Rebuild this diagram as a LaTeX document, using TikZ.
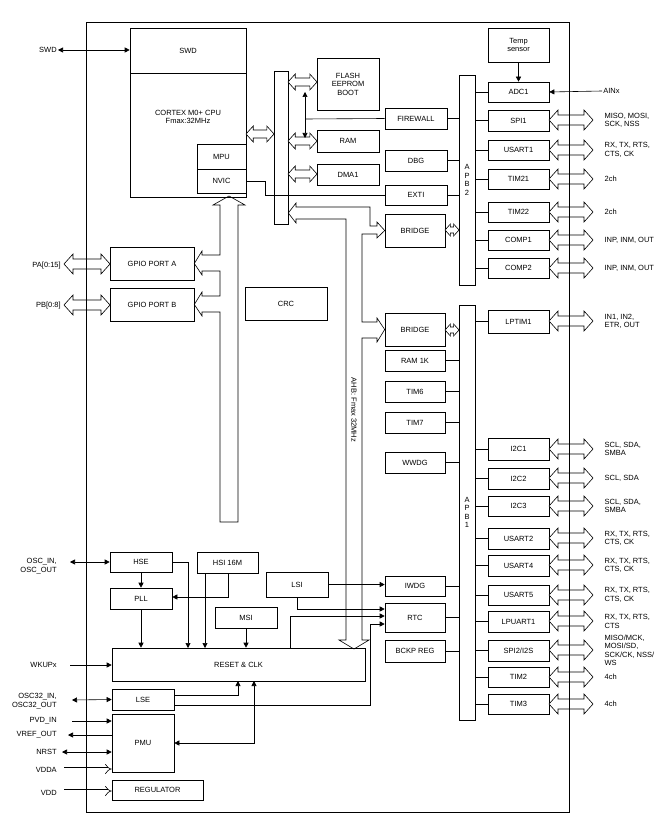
\documentclass[tikz,border=0pt]{standalone}
\usepackage{fontspec}
\setmainfont{Liberation Sans}
\usetikzlibrary{arrows.meta,positioning}

\tikzset{
  blk/.style={draw, fill=white, inner sep=0pt, align=center, font=\fontsize{7.5}{8.5}\selectfont},
  lbl/.style={font=\fontsize{7.5}{8.5}\selectfont, inner sep=1pt},
  sig/.style={-{Triangle[length=5pt,width=5pt]}},
  sigs/.style={{Triangle[length=5pt,width=5pt]}-{Triangle[length=5pt,width=5pt]}},
  pin/.style={double, double distance=3pt, -{Implies}},
}
% box from corner (x1,y1) to corner (x2,y2)
\newcommand\blk[6]{\node[blk, minimum width={(#4)-(#2)}, minimum height={(#5)-(#3)}]
  (#1) at ({((#2)+(#4))/2},{((#3)+(#5))/2}) {#6};}
% hollow two-headed bus arrow: x1, x2, y, half width
\newcommand\hbus[4]{\draw[fill=white] (#1,#3) -- ++({1.8*#4},{-2*#4}) -- ++(0,#4)
  -- ({#2-1.8*#4},{#3-#4}) -- ++(0,-#4) -- (#2,#3) -- ++({-1.8*#4},{2*#4}) -- ++(0,-#4)
  -- ({#1+1.8*#4},{#3+#4}) -- ++(0,#4) -- cycle;}

\begin{document}
\begin{tikzpicture}[x=1pt,y=-1pt,line width=0.6pt]
   \useasboundingbox (0,0) rectangle (668,818);

   % core
   \blk{swd}{130}{28}{246}{73}{SWD}
   \blk{cpu}{130}{73}{246}{197}{CORTEX M0+ CPU\\Fmax:32MHz\\[28pt]}
   \blk{mpu}{197}{144}{246}{169}{MPU}
   \blk{nvic}{197}{169}{246}{193}{NVIC}
   \blk{bar}{274}{71}{288}{224}{}
   \blk{flash}{317}{58}{379}{110}{FLASH\\EEPROM\\BOOT}
   \blk{ram}{317}{130}{379}{152}{RAM}
   \blk{dma}{317}{164}{379}{185}{DMA1}
   \blk{fw}{385}{108}{447}{129}{FIREWALL}
   \blk{dbg}{385}{150}{447}{171}{DBG}
   \blk{exti}{385}{185}{447}{205}{EXTI}
   \blk{brA}{385}{214}{445}{247}{BRIDGE}
   \blk{crc}{245}{287}{327}{320}{CRC}
   \blk{gpa}{110}{247}{194}{280}{GPIO PORT A}
   \blk{gpb}{110}{288}{194}{321}{GPIO PORT B}

   % APB2 side
   \blk{apbB}{459}{75}{475}{285}{A\\P\\B\\2}
   \blk{temp}{488}{28}{549}{62}{Temp\\sensor}
   \blk{adc}{488}{82}{549}{102}{ADC1}
   \blk{spiA}{488}{110}{549}{131}{SPI1}
   \blk{usA}{488}{140}{549}{160}{USART1}
   \blk{tmA}{488}{169}{549}{189}{TIM21}
   \blk{tmB}{488}{202}{549}{222}{TIM22}
   \blk{cmA}{488}{230}{549}{250}{COMP1}
   \blk{cmB}{488}{258}{549}{278}{COMP2}

   % APB1 side
   \blk{apbA}{459}{305}{475}{720}{A\\P\\B\\1}
   \blk{brB}{385}{313}{445}{346}{BRIDGE}
   \blk{rmk}{385}{350}{445}{371}{RAM 1K}
   \blk{tsix}{385}{381}{445}{402}{TIM6}
   \blk{tsev}{385}{412}{445}{433}{TIM7}
   \blk{wwdg}{385}{452}{445}{473}{WWDG}
   \blk{iwdg}{385}{576}{445}{596}{IWDG}
   \blk{rtc}{385}{603}{445}{632}{RTC}
   \blk{bkp}{385}{640}{445}{662}{BCKP REG}
   \blk{lpt}{488}{310}{549}{333}{LPTIM1}
   \blk{icA}{488}{438}{549}{460}{I2C1}
   \blk{icB}{488}{468}{549}{489}{I2C2}
   \blk{icC}{488}{496}{549}{516}{I2C3}
   \blk{usB}{488}{528}{549}{549}{USART2}
   \blk{usD}{488}{555}{549}{576}{USART4}
   \blk{usE}{488}{585}{549}{605}{USART5}
   \blk{lpu}{488}{611}{549}{632}{LPUART1}
   \blk{spiB}{488}{640}{549}{661}{SPI2/I2S}
   \blk{tmC}{488}{667}{549}{687}{TIM2}
   \blk{tmD}{488}{694}{549}{714}{TIM3}

   % clocks and power
   \blk{hse}{110}{552}{172}{572}{HSE}
   \blk{hsi}{197}{552}{258}{573}{HSI 16M}
   \blk{pll}{110}{588}{172}{609}{PLL}
   \blk{lsi}{266}{572}{328}{597}{LSI}
   \blk{msi}{215}{607}{277}{628}{MSI}
   \blk{rst}{112}{648}{365}{681}{RESET \& CLK}
   \blk{lse}{112}{689}{174}{710}{LSE}
   \blk{pmu}{112}{714}{174}{772}{PMU}
   \blk{reg}{112}{780}{203}{800}{REGULATOR}

   % buses
   \hbus{246}{274}{134}{4}
   \hbus{288}{317}{82}{4}
   \hbus{288}{317}{141}{4}
   \hbus{288}{317}{174}{4}
   \draw[sigs] (305,92) -- (305,138);
   \draw (fw.west) -- (305,119);
   \draw (nvic.east) -- (265,181) -- (265,195) -- (exti.west);
   % AHB
   \draw (296,219) -- (346,219) -- (346,640) -- (339,640) -- (354,649) -- (369,640) -- (362,640)
     -- (362,338) -- (377,338) -- (377,342) -- (brB.west) -- (377,318) -- (377,322) -- (362,322)
     -- (362,234) -- (377,234) -- (377,238) -- (brA.west) -- (377,222) -- (377,226) -- (370,226)
     -- (370,207) -- (296,207) -- (296,203) -- (bar.east |- 0,213) -- (296,223) -- cycle;
   % GPIO to CPU
   \draw (gpa.east) -- (202,251) -- (202,255) -- (220,255) -- (220,205) -- (213,205) -- (229,196)
     -- (245,205) -- (238,205) -- (238,522) -- (220,522) -- (220,312) -- (202,312) -- (202,316)
     -- (gpb.east) -- (202,292) -- (202,296) -- (220,296) -- (220,271) -- (202,271) -- (202,275) -- cycle;

   % APB links
   \hbus{445}{459}{230}{3}
   \hbus{445}{459}{330}{3}
   \foreach \b in {fw,dbg,exti}
     \draw (\b.east) -- (apbB.west |- \b);
   \foreach \b in {rmk,tsix,tsev,wwdg,iwdg,rtc,bkp}
     \draw (\b.east) -- (apbA.west |- \b);
   \foreach \b in {adc,spiA,usA,tmA,tmB,cmA,cmB}
     \draw (apbB.east |- \b) -- (\b.west);
   \foreach \b in {lpt,icA,icB,icC,usB,usD,usE,lpu,spiB,tmC,tmD}
     \draw (apbA.east |- \b) -- (\b.west);

   % pins, right
   \foreach \b/\yy/\t in {spiA/120/{MISO, MOSI,\\SCK, NSS}, usA/150/{RX, TX, RTS,\\CTS, CK}, tmA/179/2ch, tmB/212/2ch,
       cmA/240/{INP, INM, OUT}, cmB/268/{INP, INM, OUT}, lpt/321/{IN1, IN2,\\ETR, OUT},
       icA/449/{SCL, SDA,\\SMBA}, icB/478/{SCL, SDA}, icC/506/{SCL, SDA,\\SMBA},
       usB/538/{RX, TX, RTS,\\CTS, CK}, usD/565/{RX, TX, RTS,\\CTS, CK}, usE/595/{RX, TX, RTS,\\CTS, CK},
       lpu/621/{RX, TX, RTS,\\CTS}, spiB/650/{MISO/MCK,\\MOSI/SD,\\SCK/CK, NSS/\\WS}, tmC/677/4ch, tmD/704/4ch} {
     \hbus{549}{593}{\yy}{5}
     \node[lbl, align=left, anchor=west] (p\b) at ([xshift=54pt]\b.east) {\t};
   }
   \node[lbl, anchor=west] (ain) at (602,91) {AINx};
   \draw[sig] (ain.west) -- (adc.east);
   \draw[sig] (temp) -- (adc);

   % pins, left
   \node[lbl, anchor=east] (pswd) at (58,50) {SWD};
   \draw[sigs] (pswd.east) -- (swd.west |- pswd);
   \node[lbl, anchor=east] (ppa) at (62,266) {PA[0:15]};
   \node[lbl, anchor=east] (ppb) at (62,306) {PB[0:8]};
   \hbus{64}{110}{264}{5}
   \hbus{64}{110}{305}{5}
   \node[lbl, anchor=east, align=right] (posc) at (58,566) {OSC\_IN,\\OSC\_OUT};
   \draw[sigs] (70,562) -- (hse.west);
   \node[lbl, anchor=east] (pwk) at (58,665) {WKUPx};
   \draw[sig] (70,665) -- (rst.west |- pwk);
   \node[lbl, anchor=east, align=right] (posc32) at (58,701) {OSC32\_IN,\\OSC32\_OUT};
   \draw[sigs] (72,700) -- (lse.west);
   \node[lbl, anchor=east] (ppvd) at (58,721) {PVD\_IN};
   \draw[sig] (72,721) -- (pmu.west |- ppvd);
   \node[lbl, anchor=east] (pvref) at (58,735) {VREF\_OUT};
   \draw[sig] (pmu.west |- pvref) -- (68,735);
   \node[lbl, anchor=east] (pnrst) at (58,752) {NRST};
   \draw[sigs] (62,752) -- (pmu.west |- pnrst);
   \node[lbl, anchor=east] (pvdda) at (58,770) {VDDA};
   \draw[pin] (64,769) -- (pmu.west |- 0,769);
   \node[lbl, anchor=east] (pvdd) at (58,793) {VDD};
   \draw[pin] (64,791) -- (reg.west |- 0,791);

   % clock tree
   \draw[sig] (hse) -- (pll);
   \draw[sig] (hse.east) -- (188,562) -- (188,648);
   \draw[sig] (205,573) -- (205,648);
   \draw[sig] (228,573) -- (228,597) -- (pll.east |- 0,597);
   \draw[sig] (pll) -- (pll |- rst.north);
   \draw[sig] (msi) -- (msi |- rst.north);
   \draw[sig] (lsi.east) -- (iwdg.west |- lsi);
   \draw[sig] (297,597) -- (297,609) -- (rtc.west |- 0,609);
   \draw[sig] (290,648) -- (290,616) -- (rtc.west |- 0,616);
   \draw[sig] (lse.east |- 0,695) -- (238,695) -- (238,681);
   \draw[sig] (lse.east |- 0,705) -- (370,705) -- (370,624) -- (rtc.west |- 0,624);
   \draw[sigs] (pmu.east |- 0,743) -- (254,743) -- (254,681);

   \node[lbl, rotate=-90] (ahb) at (354,410) {AHB: Fmax 32MHz};

   % chip outline, drawn last so it crosses the pin arrows
   \draw (86,22) rectangle (569,812);
\end{tikzpicture}
\end{document}
